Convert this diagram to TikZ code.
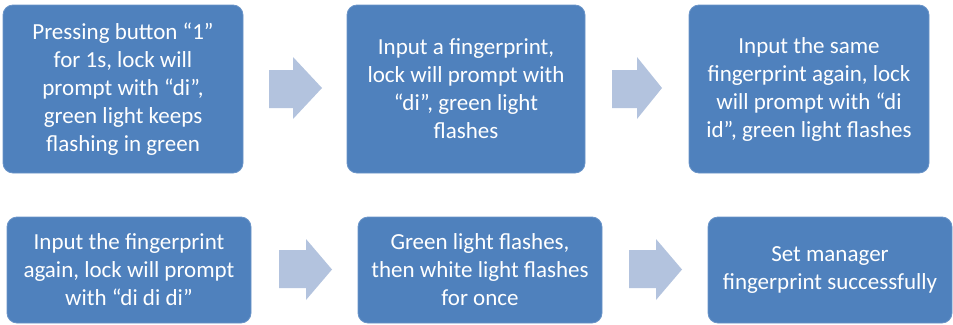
\documentclass[tikz,border=0pt]{standalone}
\usepackage{fontspec}
\setmainfont{Carlito}
\definecolor{boxblue}{HTML}{4F81BD}
\definecolor{boxedge}{HTML}{6A94C8}
\definecolor{arrowblue}{HTML}{B3C3DE}
\begin{document}
\begin{tikzpicture}[x=1pt,y=-1pt,
  stepbox/.style={draw=boxedge,line width=0.8pt,fill=boxblue,rounded corners=10pt,text=white,
    font=\fontsize{23}{28}\selectfont,align=center,inner sep=0pt},
  blockarrow/.style={fill=arrowblue}]
\useasboundingbox (0,0) rectangle (953,324);
% row 1
\node[stepbox,minimum width=240pt,minimum height=168pt] (b1) at (123,89)
  {Pressing button “1”\\for 1s, lock will\\prompt with “di”,\\green light keeps\\flashing in green};
\node[stepbox,minimum width=238pt,minimum height=168pt] (b2) at (466,89)
  {Input a fingerprint,\\lock will prompt with\\“di”, green light\\flashes};
\node[stepbox,minimum width=240pt,minimum height=168pt] (b3) at (809,89)
  {Input the same\\fingerprint again, lock\\will prompt with “di\\id”, green light flashes};
% row 2
\node[stepbox,minimum width=244pt,minimum height=106pt] (b4) at (129,270)
  {Input the fingerprint\\again, lock will prompt\\with “di di di”};
\node[stepbox,minimum width=244pt,minimum height=106pt] (b5) at (480,270)
  {Green light flashes,\\then white light flashes\\for once};
\node[stepbox,minimum width=244pt,minimum height=106pt] (b6) at (830,270)
  {Set manager\\fingerprint successfully};
% block arrows
\fill[blockarrow] (269,70) -- (293,70) -- (293,57) -- (322,88) -- (293,119) -- (293,108) -- (269,108) -- cycle;
\fill[blockarrow] (612,70) -- (637,70) -- (637,57) -- (662,88) -- (637,119) -- (637,108) -- (612,108) -- cycle;
\fill[blockarrow] (279,250) -- (306,250) -- (306,239) -- (332,269.5) -- (306,300) -- (306,288) -- (279,288) -- cycle;
\fill[blockarrow] (629,250) -- (656,250) -- (656,239) -- (682,269.5) -- (656,300) -- (656,288) -- (629,288) -- cycle;
\end{tikzpicture}
\end{document}
